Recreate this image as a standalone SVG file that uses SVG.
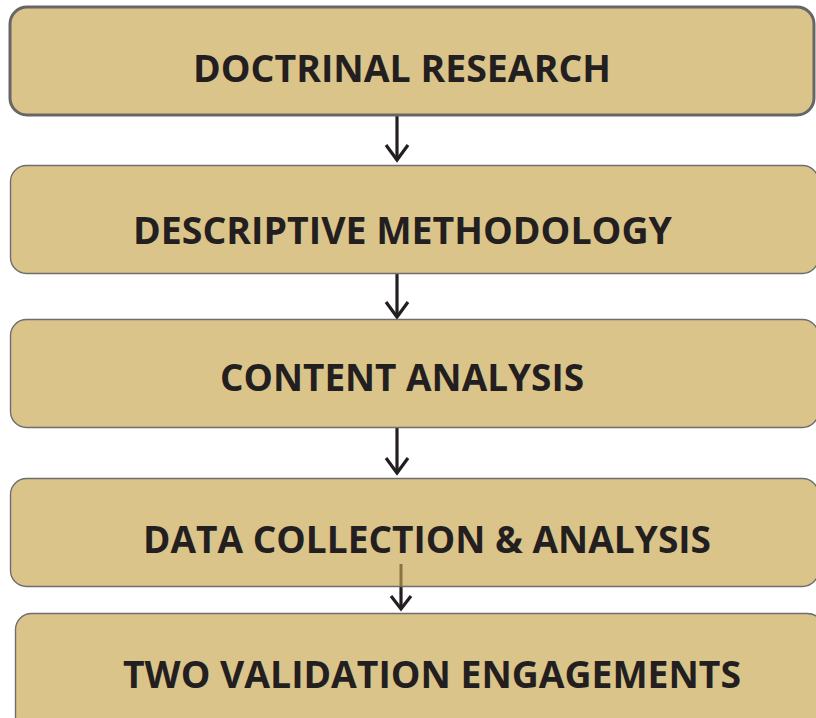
<svg xmlns="http://www.w3.org/2000/svg" width="816" height="718" viewBox="0 0 816 718">
  <defs>
    <style>
      .box { fill: #dbc48a; stroke: #6d6e71; stroke-width: 1.4; }
      .box.first { stroke: #666666; stroke-width: 3; }
      .label { font-family: "Open Sans", "Liberation Sans", sans-serif; font-weight: bold; font-size: 37px; fill: #231f20; text-anchor: middle; }
      .shaft { stroke: #231f20; stroke-width: 3.2; fill: none; }
      .head { stroke: #231f20; stroke-width: 3.2; fill: none; stroke-linejoin: miter; }
    </style>
  </defs>
  <rect width="816" height="718" fill="#ffffff"/>

  <g id="connectors">
    <line class="shaft" x1="397" y1="116" x2="397" y2="159"/>
    <polyline class="head" points="386,145 397,160 408,145"/>
    <line class="shaft" x1="397" y1="273" x2="397" y2="317"/>
    <polyline class="head" points="386,302 397,317 408,302"/>
    <line class="shaft" x1="397" y1="428" x2="397" y2="473"/>
    <polyline class="head" points="386,458 397,473 408,458"/>
    <line class="shaft" x1="401" y1="587" x2="401" y2="608"/>
    <polyline class="head" points="391,596 401,609 411,596"/>
  </g>

  <g id="node-doctrinal-research">
    <rect class="box first" x="10" y="7" width="804" height="108" rx="17"/>
    <text class="label" x="402" y="82" textLength="418" lengthAdjust="spacingAndGlyphs">DOCTRINAL RESEARCH</text>
  </g>
  <g id="node-descriptive-methodology">
    <rect class="box" x="10.5" y="165.5" width="808" height="108" rx="16"/>
    <text class="label" x="402.5" y="244" textLength="539" lengthAdjust="spacingAndGlyphs">DESCRIPTIVE METHODOLOGY</text>
  </g>
  <g id="node-content-analysis">
    <rect class="box" x="10.5" y="319.5" width="808" height="108" rx="16"/>
    <text class="label" x="402" y="391" textLength="364" lengthAdjust="spacingAndGlyphs">CONTENT ANALYSIS</text>
  </g>
  <g id="node-data-collection">
    <rect class="box" x="10.5" y="478.5" width="808" height="108" rx="16"/>
    <text class="label" x="427" y="553" textLength="568" lengthAdjust="spacingAndGlyphs">DATA COLLECTION &amp; ANALYSIS</text>
  </g>
  <!-- short connector stub drawn over the fourth box -->
  <line x1="401" y1="564" x2="401" y2="587" stroke="#7a6535" stroke-width="3" stroke-opacity="0.85"/>
  <g id="node-two-validation">
    <rect class="box" x="15.5" y="613.5" width="808" height="120" rx="16"/>
    <text class="label" x="432" y="688" textLength="618" lengthAdjust="spacingAndGlyphs">TWO VALIDATION ENGAGEMENTS</text>
  </g>
</svg>
